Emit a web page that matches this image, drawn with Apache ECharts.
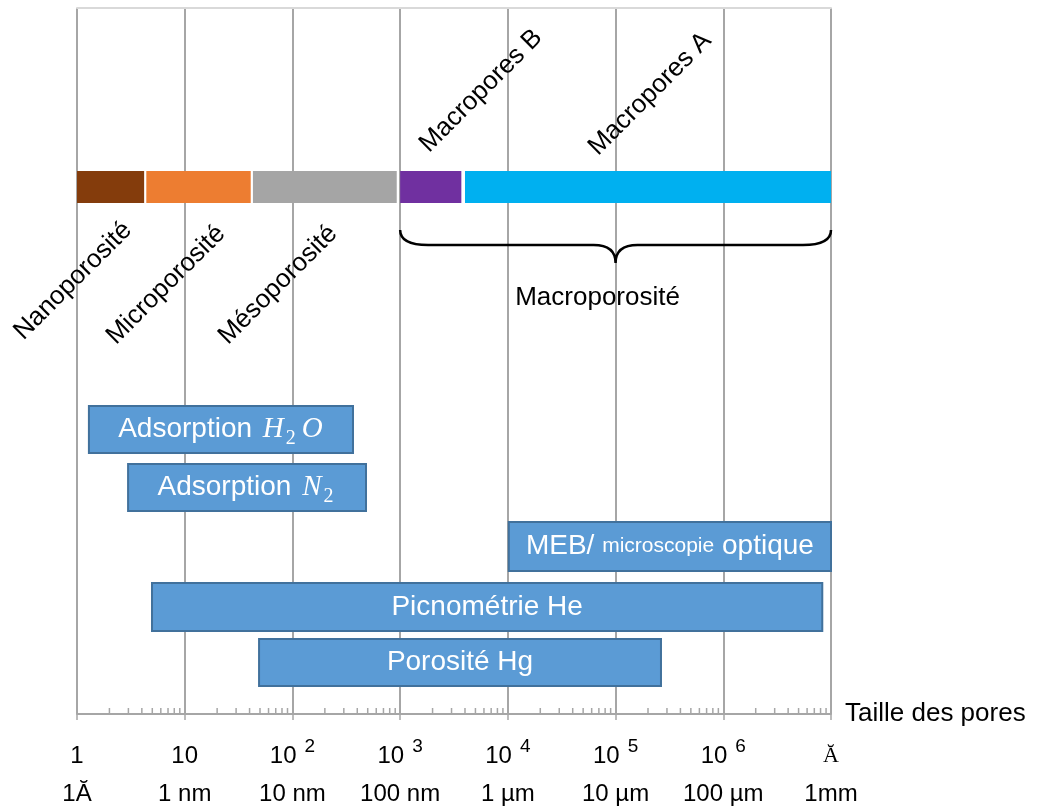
<!DOCTYPE html>
<html>
<head>
<meta charset="utf-8">
<script src="https://cdn.jsdelivr.net/npm/echarts@6/dist/echarts.min.js"></script>
<style>
  html, body { margin: 0; padding: 0; background: #fff; }
  #main { width: 1043px; height: 808px; }
</style>
</head>
<body>
<div id="main"></div>
<script>
// pore size scale (Å), one tick per decade
const decadeBase = ['1', '10', '10', '10', '10', '10', '10', 'Ă'];
const decadeExp = ['', '', '2', '3', '4', '5', '6', ''];
const decadeUnits = ['1Ă', '1 nm', '10 nm', '100 nm', '1 µm', '10 µm', '100 µm', '1mm'];

// porosity classes (Å)
const classNames = ['Nanoporosité', 'Microporosité', 'Mésoporosité', 'Macropores B', 'Macropores A'];
const classFrom = [1, 4.4, 43, 1000, 4000];
const classTo = [4.2, 41, 930, 3700, 1e7];

// measuring methods (Å)
const methodNames = ['Adsorption {i|H}{sub|2}{i|O}', 'Adsorption {i|N}{sub|2}', 'MEB/ {sm|microscopie} optique', 'Picnométrie He', 'Porosité Hg'];
const methodFrom = [1.29, 2.98, 1.02e4, 4.97, 49];
const methodTo = [365, 482, 1e7, 8.3e6, 2.64e5];

// grouping brace
const groupName = 'Macroporosité';
const groupFrom = 1e3;
const groupTo = 1e7;

// ---- styles / layout (y in px below grid top) ----
const classColors = ['#843C0C', '#ED7D31', '#A5A5A5', '#7030A0', '#00B0F0'];
const bandY = [163, 195];
const classLabelX = [0.918, 6.7, 73.5, 5640, 2.09e5];
const classLabelY = [273, 277, 277, 83, 86];
const methodTop = [398, 456, 514, 575, 631];
const methodH = [47, 47, 49, 48, 47];
const gridCol = '#A6A6A6';
const sans = '"Liberation Sans", Arial, sans-serif';

const minorTicks = [];
for (let d = 0; d < 7; d++) {
  for (let k = 2; k <= 9; k++) minorTicks.push([k * Math.pow(10, d), 0]);
}

const chart = echarts.init(document.getElementById('main'));

const option = {
  backgroundColor: '#fff',
  animation: false,
  grid: { left: 77, right: 212, top: 8, bottom: 94 },
  xAxis: [
    {
      type: 'log',
      logBase: 10,
      min: 1,
      max: 1e7,
      interval: 1,
      position: 'bottom',
      name: 'Taille des pores',
      nameLocation: 'end',
      nameGap: 14,
      nameTextStyle: { fontFamily: sans, fontSize: 26, color: '#000' },
      axisLine: { show: true, onZero: false, lineStyle: { color: gridCol, width: 2 } },
      axisTick: { show: true, length: 6, lineStyle: { color: gridCol, width: 1.5 } },
      splitLine: { show: true, lineStyle: { color: gridCol, width: 2 } },
      minorTick: { show: false },
      axisLabel: {
        margin: 23,
        showMinLabel: true,
        showMaxLabel: true,
        formatter: function (v) {
          const i = Math.round(Math.log10(v));
          if (i === 7) return '{a|' + decadeBase[i] + '}\n{u|' + decadeUnits[i] + '}';
          const exp = decadeExp[i] ? '{e|' + decadeExp[i] + '}' : '';
          return '{b|' + decadeBase[i] + '}' + exp + '\n{u|' + decadeUnits[i] + '}';
        },
        rich: {
          b: { fontFamily: sans, fontSize: 24, color: '#000', lineHeight: 38 },
          e: { fontFamily: sans, fontSize: 19, color: '#000', lineHeight: 19, verticalAlign: 'top', padding: [0, 0, 0, 8] },
          u: { fontFamily: sans, fontSize: 24, color: '#000', lineHeight: 38 },
          a: { fontFamily: '"Liberation Serif", serif', fontSize: 22, color: '#000', lineHeight: 38 }
        }
      }
    },
    {
      type: 'log',
      min: 1,
      max: 1e7,
      position: 'top',
      axisLine: { show: true, onZero: false, lineStyle: { color: '#D9D9D9', width: 2 } },
      axisTick: { show: false },
      axisLabel: { show: false },
      splitLine: { show: false }
    }
  ],
  yAxis: { type: 'value', min: 0, max: 706, inverse: true, show: false },
  series: [
    {
      type: 'custom',
      name: 'minor ticks',
      silent: true,
      data: minorTicks,
      renderItem: function (params, api) {
        const p = api.coord([api.value(0), 706]);
        return {
          type: 'line',
          shape: { x1: p[0], y1: p[1], x2: p[0], y2: p[1] - 6 },
          style: { stroke: gridCol, lineWidth: 1.5 }
        };
      }
    },
    {
      type: 'custom',
      name: 'classes',
      silent: true,
      data: classNames.map((n, i) => [classFrom[i], classTo[i], i]),
      encode: { x: [0, 1], y: 2 },
      renderItem: function (params, api) {
        const i = api.value(2);
        const a = api.coord([api.value(0), bandY[0]]);
        const b = api.coord([api.value(1), bandY[1]]);
        const la = api.coord([classLabelX[i], classLabelY[i]]);
        return {
          type: 'group',
          children: [
            {
              type: 'rect',
              shape: { x: a[0], y: a[1], width: b[0] - a[0], height: b[1] - a[1] },
              style: { fill: classColors[i] }
            },
            {
              type: 'text',
              x: la[0],
              y: la[1],
              rotation: Math.PI / 4,
              style: {
                text: classNames[i],
                align: 'center',
                verticalAlign: 'middle',
                font: '26px ' + sans,
                fill: '#000'
              }
            }
          ]
        };
      }
    },
    {
      type: 'custom',
      name: 'brace',
      silent: true,
      data: [[groupFrom, groupTo, 0]],
      encode: { x: [0, 1], y: 2 },
      renderItem: function (params, api) {
        const y0 = 222, y1 = 237, y2 = 255;
        const a = api.coord([api.value(0), y0]);
        const b = api.coord([api.value(1), y1]);
        const m = api.coord([Math.sqrt(api.value(0) * api.value(1)), y2]);
        const x0 = a[0], x1 = b[0], xm = m[0];
        const Y0 = a[1], Y1 = b[1], Y2 = m[1];
        const d = 'M' + x0 + ' ' + Y0 +
          ' Q' + x0 + ' ' + Y1 + ' ' + (x0 + 28) + ' ' + Y1 +
          ' L' + (xm - 22) + ' ' + Y1 +
          ' Q' + xm + ' ' + Y1 + ' ' + xm + ' ' + Y2 +
          ' Q' + xm + ' ' + Y1 + ' ' + (xm + 22) + ' ' + Y1 +
          ' L' + (x1 - 28) + ' ' + Y1 +
          ' Q' + x1 + ' ' + Y1 + ' ' + x1 + ' ' + Y0;
        return {
          type: 'group',
          children: [
            {
              type: 'path',
              shape: { pathData: d },
              style: { stroke: '#000', lineWidth: 2.5, fill: null }
            },
            {
              type: 'text',
              x: xm - 18,
              y: Y2 + 35,
              style: {
                text: groupName,
                align: 'center',
                verticalAlign: 'middle',
                font: '26px ' + sans,
                fill: '#000'
              }
            }
          ]
        };
      }
    },
    {
      type: 'custom',
      name: 'methods',
      silent: true,
      data: methodNames.map((n, i) => [methodFrom[i], methodTo[i], i]),
      encode: { x: [0, 1], y: 2 },
      renderItem: function (params, api) {
        const i = api.value(2);
        const a = api.coord([api.value(0), methodTop[i]]);
        const b = api.coord([api.value(1), methodTop[i] + methodH[i]]);
        return {
          type: 'rect',
          shape: { x: a[0], y: a[1], width: b[0] - a[0], height: b[1] - a[1] },
          style: { fill: '#5B9BD5', stroke: '#41719C', lineWidth: 2 },
          textContent: {
            style: {
              text: methodNames[i],
              fill: '#fff',
              font: '28px ' + sans,
              rich: {
                i: { fontStyle: 'italic', fontFamily: '"Liberation Serif", serif', fontSize: 29, fill: '#fff', padding: [0, 1, 0, 3] },
                sub: { fontFamily: '"Liberation Serif", serif', fontSize: 20, fill: '#fff', padding: [18, 3, 0, 1] },
                sm: { fontFamily: sans, fontSize: 21, fill: '#fff' }
              }
            }
          },
          textConfig: { position: 'inside' }
        };
      }
    }
  ]
};

chart.setOption(option);
</script>
</body>
</html>
